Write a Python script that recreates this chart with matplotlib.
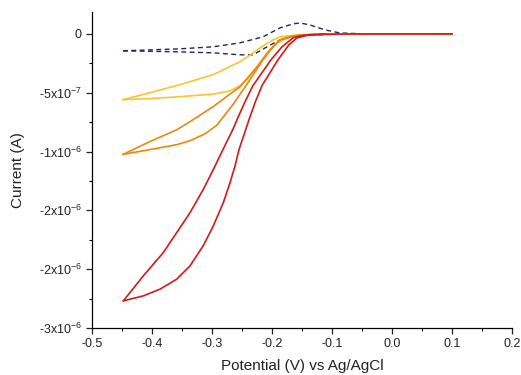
import numpy as np
import matplotlib.pyplot as plt
from matplotlib.ticker import MultipleLocator, FixedLocator, FixedFormatter

plt.rcParams['font.family'] = ['Liberation Sans', 'DejaVu Sans']
plt.rcParams['mathtext.default'] = 'regular'

# dashed (blank) scan
dash_fwd_v = [-0.4483, -0.4033, -0.3533, -0.2983, -0.2533, -0.215, -0.1867, -0.165, -0.1533, -0.1367, -0.1117, -0.0867, -0.045, -0.02]
dash_fwd_i = [-1.44e-7, -1.36e-7, -1.27e-7, -1.1e-7, -7.6e-8, -2.5e-8, 5.1e-8, 8.5e-8, 9.3e-8, 7.6e-8, 3.4e-8, 8e-9, 0.0, 0.0]
dash_rev_v = [-0.4483, -0.4033, -0.3533, -0.2983, -0.2533, -0.2317, -0.2083, -0.1867, -0.1617, -0.12, -0.07]
dash_rev_i = [-1.44e-7, -1.48e-7, -1.53e-7, -1.61e-7, -1.78e-7, -1.78e-7, -1.1e-7, -5.1e-8, -1.7e-8, -8e-9, 0.0]

# yellow loop
yel_up_v = [-0.4483, -0.4033, -0.3533, -0.2983, -0.2533, -0.235, -0.22, -0.1983, -0.1867, -0.1533, -0.12, -0.05, 0.1]
yel_up_i = [-5.59e-7, -5.0e-7, -4.32e-7, -3.47e-7, -2.37e-7, -1.75e-7, -1.19e-7, -5.1e-8, -2.5e-8, -8e-9, -3e-9, 0.0, 0.0]
yel_lo_v = [-0.4483, -0.4033, -0.3533, -0.2983, -0.27, -0.2533, -0.238, -0.225, -0.2083, -0.1917, -0.17, -0.14, -0.11]
yel_lo_i = [-5.59e-7, -5.5e-7, -5.34e-7, -5.12e-7, -4.85e-7, -4.4e-7, -3.7e-7, -2.8e-7, -1.61e-7, -7.6e-8, -2.5e-8, -6e-9, -1e-9]

# orange loop
ora_up_v = [-0.4483, -0.4033, -0.3583, -0.3367, -0.2983, -0.2533, -0.225, -0.2033, -0.1867, -0.1667, -0.13, -0.05, 0.1]
ora_up_i = [-1.025e-6, -9.15e-7, -8.14e-7, -7.46e-7, -6.19e-7, -4.49e-7, -2.8e-7, -1.36e-7, -5.1e-8, -1.7e-8, -4e-9, 0.0, 0.0]
ora_lo_v = [-0.4483, -0.4033, -0.3583, -0.335, -0.31, -0.2917, -0.265, -0.2367, -0.215, -0.1983, -0.1867, -0.1617, -0.13]
ora_lo_i = [-1.025e-6, -9.83e-7, -9.41e-7, -9.05e-7, -8.45e-7, -7.75e-7, -6.0e-7, -3.9e-7, -2.2e-7, -1.1e-7, -5.1e-8, -1.7e-8, -3e-9]

# red loop
red_up_v = [-0.4478, -0.4145, -0.3812, -0.3588, -0.3367, -0.3145, -0.2978, -0.2817, -0.265, -0.2567, -0.2433, -0.2317, -0.2017, -0.1833, -0.165, -0.15, -0.12, -0.08, 0.1]
red_up_i = [-2.269e-6, -2.057e-6, -1.859e-6, -1.689e-6, -1.52e-6, -1.322e-6, -1.153e-6, -9.83e-7, -8.1e-7, -7.1e-7, -5.59e-7, -4.4e-7, -2.2e-7, -1.1e-7, -3.4e-8, -1.4e-8, -4e-9, -1e-9, 0.0]
red_lo_v = [-0.4478, -0.4145, -0.3867, -0.3588, -0.3367, -0.3145, -0.2978, -0.2812, -0.27, -0.2617, -0.255, -0.2383, -0.2283, -0.2167, -0.19, -0.1717, -0.1583, -0.14, -0.11]
red_lo_i = [-2.269e-6, -2.227e-6, -2.17e-6, -2.085e-6, -1.972e-6, -1.8e-6, -1.632e-6, -1.435e-6, -1.265e-6, -1.124e-6, -9.83e-7, -7.29e-7, -5.85e-7, -4.4e-7, -2.2e-7, -9.3e-8, -3.4e-8, -1e-8, -2e-9]

xtick_vals = [-0.5, -0.4, -0.3, -0.2, -0.1, 0.0, 0.1, 0.2]
xtick_labels = ['-0.5', '-0.4', '-0.3', '-0.2', '-0.1', '0.0', '0.1', '0.2']
ytick_vals = [0, -5e-7, -1e-6, -1.5e-6, -2e-6, -2.5e-6]
ytick_labels = ['0', r'-5x10$^{-7}$', r'-1x10$^{-6}$', r'-2x10$^{-6}$', r'-2x10$^{-6}$', r'-3x10$^{-6}$']

fig = plt.figure(figsize=(5.21, 3.75), dpi=100)
ax = fig.add_axes([0.1766, 0.1253, 0.8061, 0.8427])

navy = '#23236a'
yellow = '#f7c531'
orange = '#e8880e'
red = '#d21a1a'

ax.plot(dash_fwd_v, dash_fwd_i, color=navy, lw=1.0, ls=(0, (3.5, 2.5)))
ax.plot(dash_rev_v, dash_rev_i, color=navy, lw=1.0, ls=(0, (3.5, 2.5)))
for v, i, c in [(yel_up_v, yel_up_i, yellow), (yel_lo_v, yel_lo_i, yellow),
                (ora_up_v, ora_up_i, orange), (ora_lo_v, ora_lo_i, orange),
                (red_up_v, red_up_i, red), (red_lo_v, red_lo_i, red)]:
    ax.plot(v, i, color=c, lw=1.2, solid_joinstyle='round')

ax.set_xlim(-0.5, 0.2)
ax.set_ylim(-2.5e-6, 1.86e-7)

ax.spines['top'].set_visible(False)
ax.spines['right'].set_visible(False)
for s in ['left', 'bottom']:
    ax.spines[s].set_linewidth(0.9)

ax.xaxis.set_major_locator(FixedLocator(xtick_vals))
ax.xaxis.set_major_formatter(FixedFormatter(xtick_labels))
ax.xaxis.set_minor_locator(MultipleLocator(0.05))
ax.yaxis.set_major_locator(FixedLocator(ytick_vals))
ax.yaxis.set_major_formatter(FixedFormatter(ytick_labels))
ax.yaxis.set_minor_locator(MultipleLocator(2.5e-7))

ax.tick_params(which='major', direction='out', length=4, width=0.9, labelsize=9, colors='#222222')
ax.tick_params(which='minor', direction='out', length=2.5, width=0.8)

ax.set_xlabel('Potential (V) vs Ag/AgCl', fontsize=11, color='#222222', labelpad=6)
ax.set_ylabel('Current (A)', fontsize=11, color='#222222', labelpad=10)

fig.savefig('out.png', dpi=100)
